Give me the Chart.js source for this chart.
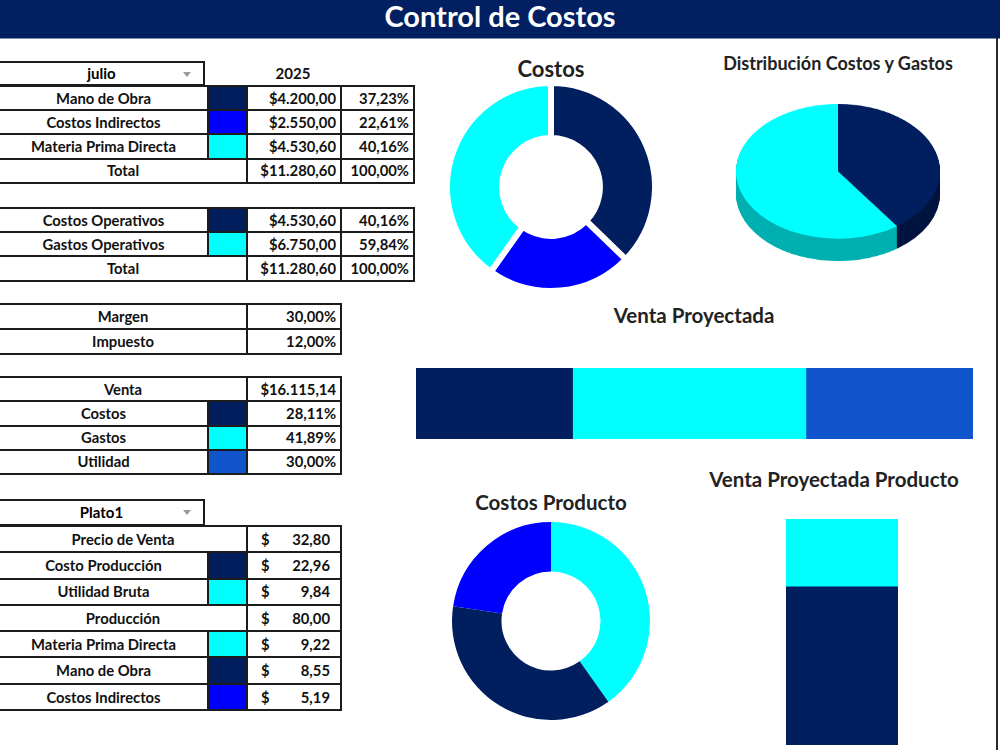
<!DOCTYPE html>
<html>
<head>
<meta charset="utf-8">
<script src="https://cdn.jsdelivr.net/npm/chart.js@4.4.1/dist/chart.umd.min.js"></script>
<style>
  body { margin: 0; width: 1000px; height: 750px; overflow: hidden; background: #fff; position: relative; font-family: Lato, "Noto Sans", sans-serif; }
  .header { position: absolute; left: 0; top: 0; width: 1000px; height: 38px; background: #022061; border-bottom: 1px solid #7f8fb0; color: #fff; font-weight: bold; font-size: 29px; text-align: center; line-height: 31px; }
  .rline { position: absolute; left: 996px; top: 38px; width: 2px; height: 712px; background: #2a2a2a; }
  table.t { position: absolute; border-collapse: collapse; table-layout: fixed; font-weight: bold; font-size: 14.8px; color: #111; }
  table.t td { border: 2px solid #1c1c1c; padding: 0 4px; white-space: nowrap; overflow: hidden; line-height: 1; }
  td.c { text-align: center; }
  td.r { text-align: right; }
  td.sw { padding: 0; }
  .drop { position: absolute; left: -2px; width: 207px; border: 2px solid #1c1c1c; box-sizing: border-box; text-align: center; font-weight: bold; font-size: 15px; }
  .drop::after { content: ""; position: absolute; right: 12px; top: 9px; border-left: 4px solid transparent; border-right: 4px solid transparent; border-top: 5px solid #9a9a9a; }
  .money { display: flex; justify-content: space-between; padding: 0 6px 0 9px; }
  .ttl { position: absolute; font-weight: bold; color: #222; white-space: nowrap; transform: translate(-50%, -50%); }
  .box { position: absolute; }
  .box canvas { display: block; }
</style>
</head>
<body>
<div class="header">Control de Costos</div>
<div class="rline"></div>

<div class="drop" style="top:61px;height:25px;line-height:21px;">julio</div>
<div class="ttl" style="left:293px;top:73px;font-size:15px;color:#111;">2025</div>
<div class="drop" style="top:499px;height:27px;line-height:23px;">Plato1</div>

<div class="ttl" style="left:551px;top:68px;font-size:22px;">Costos</div>
<div class="ttl" style="left:838px;top:63px;font-size:18px;">Distribución Costos y Gastos</div>
<div class="ttl" style="left:694px;top:315px;font-size:20.5px;">Venta Proyectada</div>
<div class="ttl" style="left:551px;top:502px;font-size:20.5px;">Costos Producto</div>
<div class="ttl" style="left:834px;top:479px;font-size:20.5px;">Venta Proyectada Producto</div>

<div class="box" style="left:444px;top:80px;"><canvas id="costos" width="214" height="214"></canvas></div>
<div class="box" style="left:736px;top:104px;transform:scaleY(0.66);transform-origin:top left;"><canvas id="distribucion" width="204" height="238"></canvas></div>
<div class="box" style="left:416px;top:368px;"><canvas id="venta" width="557" height="71"></canvas></div>
<div class="box" style="left:452px;top:522px;"><canvas id="costosProducto" width="198" height="198"></canvas></div>
<div class="box" style="left:786px;top:519px;"><canvas id="ventaProducto" width="112" height="226"></canvas></div>

<script>
// Datos
const costosLabels = ['Mano de Obra', 'Costos Indirectos', 'Materia Prima Directa'];
const costosValues = [4200.00, 2550.00, 4530.60];
const costosPct = [37.23, 22.61, 40.16];
const costosTotal = 11280.60;

const operLabels = ['Costos Operativos', 'Gastos Operativos'];
const operValues = [4530.60, 6750.00];
const operPct = [40.16, 59.84];

const paramLabels = ['Margen', 'Impuesto'];
const paramPct = [30.00, 12.00];

const ventaTotal = 16115.14;
const ventaLabels = ['Costos', 'Gastos', 'Utilidad'];
const ventaPct = [28.11, 41.89, 30.00];

const platoLabels = ['Precio de Venta', 'Costo Producción', 'Utilidad Bruta', 'Producción', 'Materia Prima Directa', 'Mano de Obra', 'Costos Indirectos'];
const platoValues = [32.80, 22.96, 9.84, 80.00, 9.22, 8.55, 5.19];

const productoCostosLabels = ['Materia Prima Directa', 'Mano de Obra', 'Costos Indirectos'];
const productoCostosValues = [9.22, 8.55, 5.19];
const productoVentaLabels = ['Costo Producción', 'Utilidad Bruta'];
const productoVentaValues = [22.96, 9.84];
const precioVenta = 32.80;

// Colores
const navy = '#011f5e', blue = '#0000ff', cyan = '#00ffff', azul = '#1155cc';
const costosColors = [navy, blue, cyan];
const operColors = [navy, cyan];
const operSideColors = ['#00143f', '#00b0b0'];
const ventaColors = [navy, cyan, azul];
const platoColors = [null, navy, cyan, null, cyan, navy, blue];
const productoCostosColors = [cyan, navy, blue];
const productoVentaColors = [navy, cyan];

function money(n) {
    const [i, d] = n.toFixed(2).split('.');
    return i.replace(/\B(?=(\d{3})+(?!\d))/g, '.') + ',' + d;
}
const pct = n => money(n) + '%';

// Tablas
function tabla(top, cols, rowH, rows) {
    const t = document.createElement('table');
    t.className = 't';
    t.style.left = '-2px';
    t.style.top = top + 'px';
    t.style.width = cols.reduce((a, b) => a + b, 0) + 'px';
    t.innerHTML = '<colgroup>' + cols.map(w => `<col style="width:${w}px">`).join('') + '</colgroup>' +
        rows.map(r => `<tr style="height:${rowH}px">` + r.map(c =>
            `<td class="${c.cls || ''}" ${c.span ? `colspan="${c.span}"` : ''} ${c.bg ? `style="background:${c.bg}"` : ''}>${c.html || ''}</td>`
        ).join('') + '</tr>').join('');
    document.body.appendChild(t);
}

tabla(85, [209, 39, 94, 73], 24.2, [
    ...costosLabels.map((l, i) => [
        { html: l, cls: 'c' }, { cls: 'sw', bg: costosColors[i] },
        { html: '$' + money(costosValues[i]), cls: 'r' }, { html: pct(costosPct[i]), cls: 'r' }
    ]),
    [{ html: 'Total', cls: 'c', span: 2 }, { html: '$' + money(costosTotal), cls: 'r' }, { html: pct(100), cls: 'r' }]
]);

tabla(207, [209, 39, 94, 73], 24.2, [
    ...operLabels.map((l, i) => [
        { html: l, cls: 'c' }, { cls: 'sw', bg: operColors[i] },
        { html: '$' + money(operValues[i]), cls: 'r' }, { html: pct(operPct[i]), cls: 'r' }
    ]),
    [{ html: 'Total', cls: 'c', span: 2 }, { html: '$' + money(operValues[0] + operValues[1]), cls: 'r' }, { html: pct(100), cls: 'r' }]
]);

tabla(303, [209, 39, 94], 25, paramLabels.map((l, i) => [
    { html: l, cls: 'c', span: 2 }, { html: pct(paramPct[i]), cls: 'r' }
]));

tabla(376, [209, 39, 94], 24.25, [
    [{ html: 'Venta', cls: 'c', span: 2 }, { html: '$' + money(ventaTotal), cls: 'r' }],
    ...ventaLabels.map((l, i) => [
        { html: l, cls: 'c' }, { cls: 'sw', bg: ventaColors[i] }, { html: pct(ventaPct[i]), cls: 'r' }
    ])
]);

tabla(525, [209, 39, 94], 26.3, platoLabels.map((l, i) => {
    const val = { html: `<div class="money"><span>$</span><span>${money(platoValues[i])}</span></div>`, cls: 'sw' };
    return platoColors[i]
        ? [{ html: l, cls: 'c' }, { cls: 'sw', bg: platoColors[i] }, val]
        : [{ html: l, cls: 'c', span: 2 }, val];
}));

// Graficos
Chart.defaults.animation = false;
const base = { responsive: false, maintainAspectRatio: false, events: [], plugins: { legend: { display: false }, tooltip: { enabled: false } } };

new Chart(document.getElementById('costos'), {
    type: 'doughnut',
    data: {
        labels: costosLabels,
        datasets: [{ data: costosValues, backgroundColor: costosColors, borderColor: '#fff', borderWidth: 6 }]
    },
    options: { ...base, cutout: '47%' }
});

const pieDepth = {
    id: 'pieDepth',
    beforeDatasetsDraw(chart, args, opts) {
        const ctx = chart.ctx;
        const arcs = chart.getDatasetMeta(0).data;
        for (let off = opts.depth; off > 0; off--) {
            arcs.forEach((arc, i) => {
                ctx.beginPath();
                ctx.moveTo(arc.x, arc.y + off);
                ctx.arc(arc.x, arc.y + off, arc.outerRadius, arc.startAngle, arc.endAngle);
                ctx.closePath();
                ctx.fillStyle = opts.colors[i];
                ctx.fill();
            });
        }
    }
};

new Chart(document.getElementById('distribucion'), {
    type: 'pie',
    data: {
        labels: operLabels,
        datasets: [{ data: operValues, backgroundColor: operColors, borderWidth: 0 }]
    },
    options: {
        ...base,
        layout: { padding: { bottom: 34 } },
        plugins: { ...base.plugins, pieDepth: { depth: 34, colors: operSideColors } }
    },
    plugins: [pieDepth]
});

new Chart(document.getElementById('venta'), {
    type: 'bar',
    data: {
        labels: ['Venta'],
        datasets: ventaLabels.map((l, i) => ({
            label: l, data: [ventaPct[i]], backgroundColor: ventaColors[i],
            borderWidth: 0, barPercentage: 1, categoryPercentage: 1
        }))
    },
    options: {
        ...base,
        indexAxis: 'y',
        scales: {
            x: { display: false, stacked: true, min: 0, max: 100 },
            y: { display: false, stacked: true }
        }
    }
});

new Chart(document.getElementById('costosProducto'), {
    type: 'doughnut',
    data: {
        labels: productoCostosLabels,
        datasets: [{ data: productoCostosValues, backgroundColor: productoCostosColors, borderWidth: 0 }]
    },
    options: { ...base, cutout: '50%' }
});

new Chart(document.getElementById('ventaProducto'), {
    type: 'bar',
    data: {
        labels: ['Plato1'],
        datasets: productoVentaLabels.map((l, i) => ({
            label: l, data: [productoVentaValues[i]], backgroundColor: productoVentaColors[i],
            borderWidth: 0, barPercentage: 1, categoryPercentage: 1
        }))
    },
    options: {
        ...base,
        scales: {
            x: { display: false, stacked: true },
            y: { display: false, stacked: true, min: 0, max: precioVenta }
        }
    }
});
</script>
</body>
</html>
